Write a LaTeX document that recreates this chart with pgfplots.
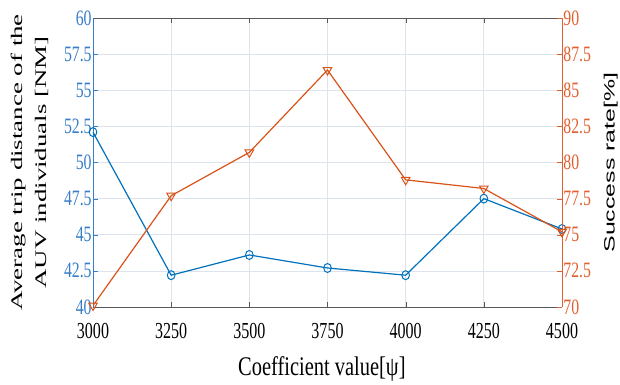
\documentclass[border=0pt]{standalone}
\usepackage{fontspec}
\setmainfont{Liberation Serif}
\newfontfamily\sansf{Liberation Sans}
\usepackage{pgfplots}
\pgfplotsset{compat=1.18}
\definecolor{mblue}{RGB}{0,114,189}
\definecolor{morange}{RGB}{217,83,25}
\definecolor{tblue}{RGB}{55,125,200}
\definecolor{torange}{RGB}{225,95,45}
\definecolor{gridc}{RGB}{222,228,238}
\begin{document}
\begin{tikzpicture}
\useasboundingbox (-93bp,-78bp) rectangle (527bp,307bp);
\pgfplotsset{
  every axis/.append style={
    scale only axis, width=469bp, height=289bp,
    at={(0,0)}, anchor=south west,
    xmin=3000, xmax=4500, xtick={3000,3250,...,4500},
    /pgf/number format/assume math mode=true,
    /pgf/number format/1000 sep={},
    yticklabel style={font=\fontsize{22}{24}\selectfont, xscale=0.72, inner sep=1.5bp},
    xticklabel style={font=\fontsize{23}{25}\selectfont, xscale=0.7, yshift=-15bp, inner sep=1bp},
    tick align=inside, major tick length=5bp,
    line width=0.8bp,
  }
}
\begin{axis}[
  axis y line*=left,
  ymin=40, ymax=60, ytick={40,42.5,...,60},
  xmajorgrids, ymajorgrids, grid style={gridc, line width=0.7bp},
  x axis line style={black!65},
  xtick style={black!65},
  y axis line style={tblue},
  ytick style={tblue},
  yticklabel style={text=tblue},
  xlabel={Coefficient value[ψ]},
  xlabel style={at={(axis description cs:0.488,-0.215)}, anchor=center, font=\fontsize{27}{30}\selectfont, xscale=0.76},
  ylabel={Average trip distance of the\\AUV individuals [NM]},
  ylabel style={align=center, at={(axis description cs:-0.134,0.5)}, anchor=center, font=\fontsize{27}{40}\selectfont, yscale=0.6},
]
\addplot[mblue, line width=1.2bp, mark=o, mark size=4.5pt, mark options={xscale=0.85, line width=1bp}] coordinates {
(3000,52.1) (3250,42.2) (3500,43.6) (3750,42.7) (4000,42.2) (4250,47.5) (4500,45.4)
};
\end{axis}
\begin{axis}[
  axis y line*=right, axis x line=none,
  ymin=70, ymax=90, ytick={70,72.5,...,90},
  y axis line style={torange},
  ytick style={torange},
  yticklabel style={text=torange},
  ylabel={Success rate[\%]},
  ylabel style={at={(axis description cs:1.104,0.5)}, anchor=center, font=\sansf\fontsize{25}{28}\selectfont, yscale=0.6},
]
\addplot[morange, line width=1.2bp, mark=triangle, mark size=5pt, mark options={rotate=180, line width=1bp}] coordinates {
(3000,70.1) (3250,77.7) (3500,80.7) (3750,86.4) (4000,78.8) (4250,78.2) (4500,75.2)
};
\end{axis}
\end{tikzpicture}
\end{document}
